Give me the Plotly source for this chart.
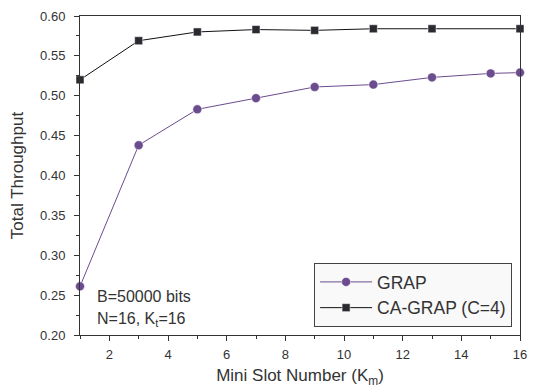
import plotly.graph_objects as go

grap_x = [1, 3, 5, 7, 9, 11, 13, 15, 16]
grap_y = [0.261, 0.438, 0.483, 0.497, 0.511, 0.514, 0.523, 0.528, 0.529]
ca_x = [1, 3, 5, 7, 9, 11, 13, 16]
ca_y = [0.520, 0.569, 0.580, 0.583, 0.582, 0.584, 0.584, 0.584]

purple = "#6b4c8e"
dark = "#2a2a30"
font = "Liberation Sans, Arial, sans-serif"
txt = "#333333"

fig = go.Figure()
fig.add_trace(go.Scatter(x=grap_x, y=grap_y, mode="lines+markers", name="GRAP",
                         line=dict(color=purple, width=1),
                         marker=dict(symbol="circle", size=9, color=purple,
                                     line=dict(color="white", width=0.5)),
                         cliponaxis=False))
fig.add_trace(go.Scatter(x=ca_x, y=ca_y, mode="lines+markers", name="CA-GRAP (C=4)",
                         line=dict(color="#111111", width=1),
                         marker=dict(symbol="square", size=8, color=dark,
                                     line=dict(color="white", width=0.5)),
                         cliponaxis=False))

axis_common = dict(showline=True, linecolor="#333333", linewidth=1, mirror=True,
                   showgrid=False, zeroline=False, ticks="outside", ticklen=5,
                   tickcolor="#333333", tickfont=dict(size=13, color=txt, family=font))

fig.update_xaxes(range=[1, 16], tickvals=[2, 4, 6, 8, 10, 12, 14, 16],
                 ticklabelstandoff=2,
                 minor=dict(dtick=1, tick0=1, ticks="outside", ticklen=3, tickcolor="#333333"),
                 title=dict(text="Mini Slot Number (K<sub>m</sub>)",
                            font=dict(size=17, color=txt, family=font), standoff=8),
                 **axis_common)
fig.update_yaxes(range=[0.2, 0.6], dtick=0.05, tickformat=".2f",
                 ticklabelstandoff=6,
                 minor=dict(dtick=0.025, tick0=0.2, ticks="outside", ticklen=3, tickcolor="#333333"),
                 title=dict(text="Total Throughput",
                            font=dict(size=17, color=txt, family=font), standoff=12),
                 **axis_common)

fig.add_annotation(x=0.033, y=0.122, xref="paper", yref="paper", xanchor="left", yanchor="middle",
                   text="B=50000 bits", showarrow=False,
                   font=dict(size=16, color=txt, family=font))
fig.add_annotation(x=0.033, y=0.05, xref="paper", yref="paper", xanchor="left", yanchor="middle",
                   text="N=16, K<sub>t</sub>=16", showarrow=False,
                   font=dict(size=16, color=txt, family=font))

fig.update_layout(
    width=535, height=392,
    margin=dict(l=80, r=8, t=16, b=57),
    paper_bgcolor="white", plot_bgcolor="white",
    font=dict(family=font, color=txt),
    legend=dict(x=0.532, y=0.025, xanchor="left", yanchor="bottom",
                bgcolor="#f9f9f9", bordercolor="#444444", borderwidth=1,
                font=dict(size=17.5, color=txt, family=font),
                tracegroupgap=0, itemwidth=52),
)

fig.write_html("out.html")
